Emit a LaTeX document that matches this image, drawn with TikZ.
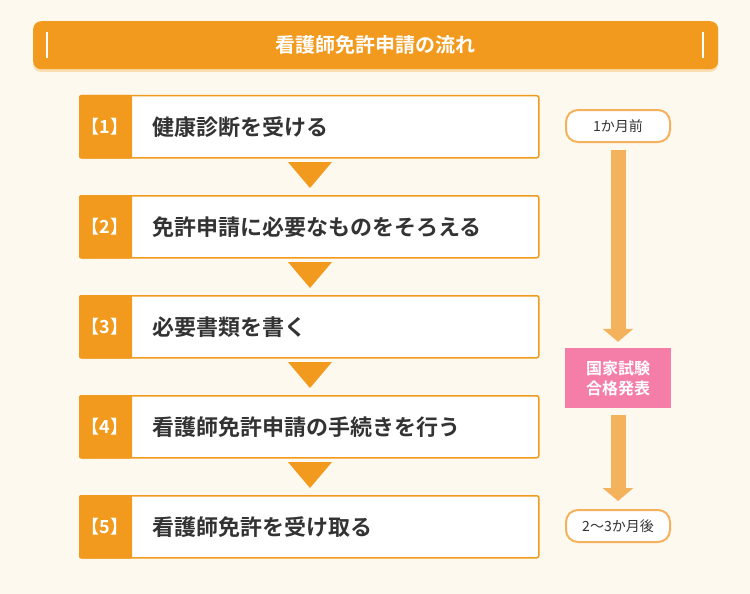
\documentclass[tikz,border=0pt]{standalone}
\usepackage{fontspec}
\setmainfont{Noto Sans CJK JP}
\newfontfamily\jpb{Noto Sans CJK JP Bold}
\usetikzlibrary{arrows.meta}
\definecolor{bg}{HTML}{FEF9EF}
\definecolor{org}{HTML}{F29A1E}
\definecolor{lorg}{HTML}{F5B25C}
\definecolor{pink}{HTML}{F47EA8}
\definecolor{txt}{HTML}{333333}
\begin{document}
\begin{tikzpicture}[x=1pt,y=-1pt,
 stepbox/.style={draw=org,line width=1.5pt,fill=white,rounded corners=2pt,minimum width=459pt,minimum height=62pt,anchor=north west},
 lab/.style={font=\jpb\fontsize{18}{18}\selectfont,text=white},
 stxt/.style={font=\jpb\fontsize{22}{22}\selectfont,text=txt,anchor=west},
 tri/.style={fill=org},
 pill/.style={draw=lorg,line width=2pt,fill=white,rounded corners=12pt,minimum width=104pt,minimum height=32pt,font=\fontsize{14}{14}\selectfont,text=txt},
 bar/.style={draw=lorg,line width=15pt,-{Triangle[width=30pt,length=13pt]},shorten >=0pt}]
\fill[bg] (0,0) rectangle (750,594);
\useasboundingbox (0,0) rectangle (750,594);
\fill[org!30!bg,rounded corners=8pt] (33,24) rectangle (718,72);
\node[fill=org,rounded corners=8pt,minimum width=685pt,minimum height=48pt,anchor=north west,lab,font=\jpb\fontsize{20}{20}\selectfont] (title) at (33,21) {看護師免許申請の流れ};
\draw[white,line width=1.2pt] (47,32) -- (47,58) (703,32) -- (703,58);
\foreach \i/\t in {1/健康診断を受ける,2/免許申請に必要なものをそろえる,3/必要書類を書く,4/看護師免許申請の手続きを行う,5/看護師免許を受け取る}{
 \pgfmathsetmacro\yy{95+(\i-1)*100}
 \node[stepbox] (s\i) at (79,\yy) {};
 \fill[org,rounded corners=2pt] (s\i.north west) rectangle ([xshift=53pt]s\i.south west);
 \node[lab] (l\i) at ([xshift=26pt]s\i.west) {【\i】};
 \node[stxt] (t\i) at ([xshift=70pt]s\i.west) {\t};
}
\foreach \i in {1,2,3,4}{
 \pgfmathsetmacro\yy{162+(\i-1)*100}
 \fill[tri] (288,\yy) -- (332,\yy) -- (310,\yy+26) -- cycle;
}
\node[pill] (p1) at (618,126) {1か月前};
\node[fill=pink,minimum width=106pt,minimum height=60pt,text=white,font=\jpb\fontsize{16}{20}\selectfont,align=center] (exam) at (618,378) {国家試験\\合格発表};
\node[pill] (p2) at (618,526) {2〜3か月後};
\draw[bar] ([yshift=-7pt]p1.south) -- ([yshift=6pt]exam.north);
\draw[bar] ([yshift=-7pt]exam.south) -- ([yshift=8pt]p2.north);
\end{tikzpicture}
\end{document}
